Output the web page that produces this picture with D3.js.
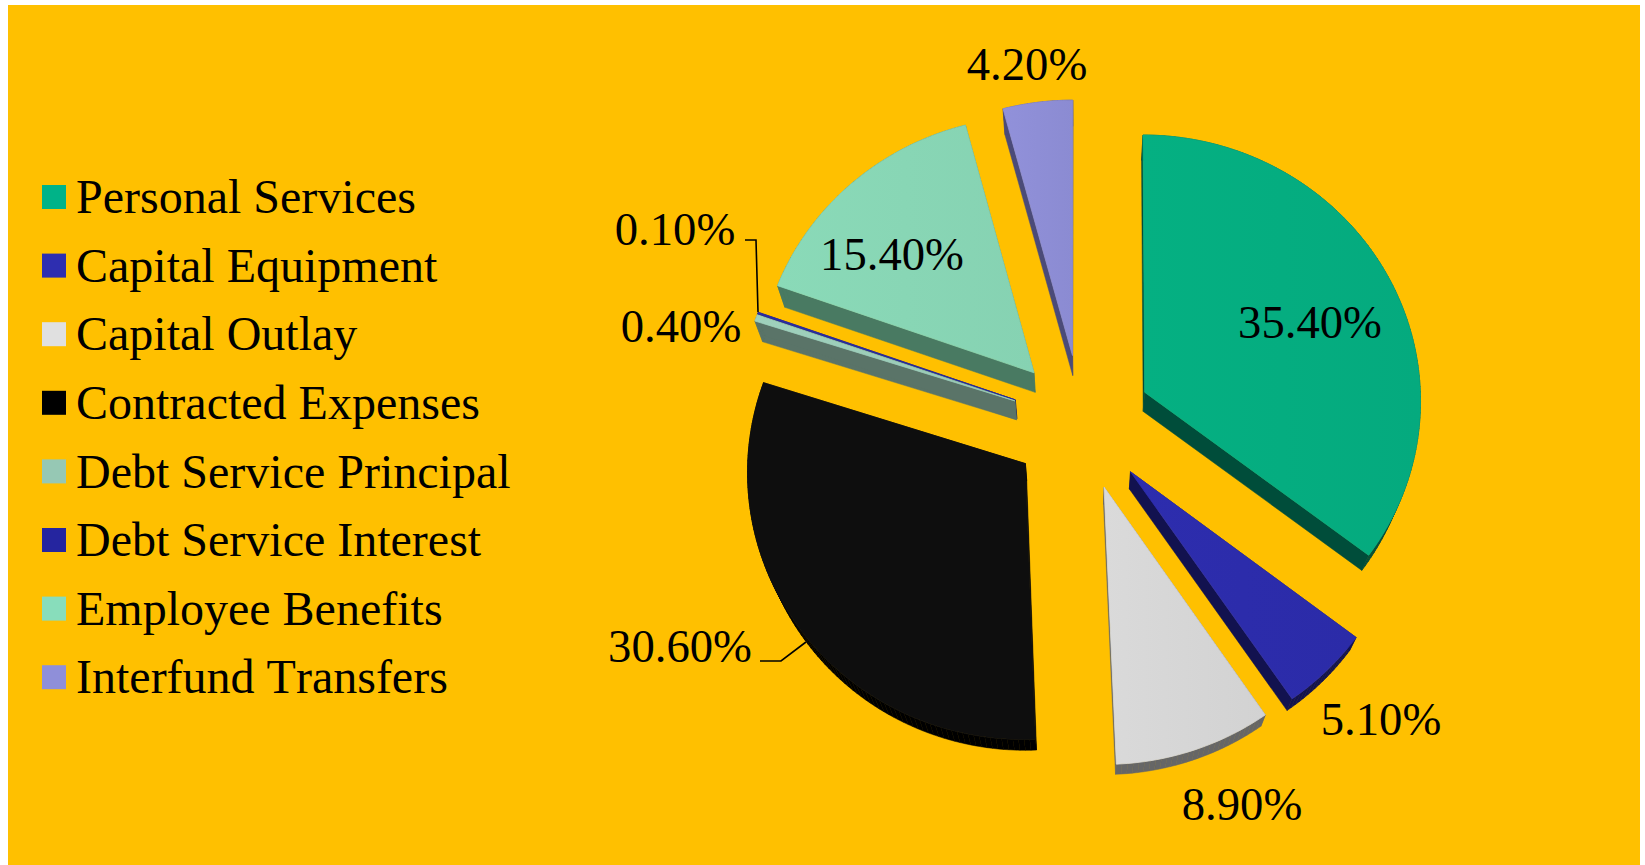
<!DOCTYPE html>
<html><head><meta charset="utf-8">
<style>html,body{margin:0;padding:0;background:#fff;overflow:hidden}svg{display:block}text{font-family:"Liberation Serif",serif;fill:#000;font-kerning:none}</style>
<script src="https://cdnjs.cloudflare.com/ajax/libs/d3/7.8.5/d3.min.js"></script>
</head><body><svg id="c" width="1645" height="865"></svg>
<script>
const categories=["Personal Services","Capital Equipment","Capital Outlay","Contracted Expenses","Debt Service Principal","Debt Service Interest","Employee Benefits","Interfund Transfers"];
const values=[35.4,5.1,8.9,30.6,0.4,0.1,15.4,4.2];
const labels=["35.40%","5.10%","8.90%","30.60%","0.40%","0.10%","15.40%","4.20%"];
const faceColors=["#05AD80","#2C2CAB","#D6D6D6","#0E0E0E","#9CCDB9","#2A2AA0","#88D6B5","#8E8ED6"];
const wallColors=["#004D3A","#12124F","#666666","#000000","#5A7468","#14145A","#497A62","#4B4B78"];
const legendColors=["#00B388","#2E2EB0","#E0E0E0","#000000","#96C8B4","#25259F","#88DDBB","#8F8FD9"];
const labelAnchors=[[1310,322],[1381,719],[1242,804],[680,646],[681,326],[675,229],[892,254],[1027,64]];
const leaderLines=[[[745,240],[756,240],[758,312]],[[760,661],[781,661],[806,642]]];

const svg=d3.select("#c");
svg.append("rect").attr("x",8).attr("y",5).attr("width",1632).attr("height",860).attr("fill","#FFC000");

const cx=1081.7,cy=422.3,A=276.5,B=266,ex=0.255,p=0.0275;
const vp=[1082,1189],wallT=0.024;
const sx=d3.scaleLinear().domain([0,1]).range([0,A]);
const sy=d3.scaleLinear().domain([0,1]).range([0,-B]);
function project(X,Y){const w=1+p*Y;return [cx+sx(X)/w,cy+sy(Y)/w];}
function drop(P){return [P[0]+wallT*(vp[0]-P[0]),P[1]+wallT*(vp[1]-P[1])];}

const defs=svg.append("defs");
faceColors.forEach((c,i)=>{
  const lg=defs.append("linearGradient").attr("id","f"+i).attr("x1",0).attr("y1",0).attr("x2",1).attr("y2",0);
  lg.append("stop").attr("offset",0).attr("stop-color",d3.color(c).brighter(0.05));
  lg.append("stop").attr("offset",1).attr("stop-color",d3.color(c).darker(0.05));
});

const arcs=d3.pie().sort(null).value(d=>d)(values);
const path=d3.line();
const g=svg.append("g");
const slices=arcs.map((a,i)=>{
  const m=(a.startAngle+a.endAngle)/2;
  const ox=ex*Math.sin(m),oy=ex*Math.cos(m);
  const n=Math.max(2,Math.ceil((a.endAngle-a.startAngle)/0.02));
  const pts=[project(ox,oy)];
  d3.range(n+1).forEach(k=>{const t=a.startAngle+(a.endAngle-a.startAngle)*k/n;pts.push(project(ox+Math.sin(t),oy+Math.cos(t)));});
  return {i,pts};
});
// far slices are painted first so that a nearer slice hides what lies behind it
slices.slice().sort((a,b)=>a.pts[0][1]-b.pts[0][1]).forEach(s=>{
  const w=g.append("g");
  s.pts.forEach((P,k)=>{const Q=s.pts[(k+1)%s.pts.length];
    w.append("path").attr("d",path([P,Q,drop(Q),drop(P)])+"Z").attr("fill",wallColors[s.i]).attr("stroke",wallColors[s.i]).attr("stroke-width",0.5);
  });
  g.append("path").attr("d",path(s.pts)+"Z").attr("fill",`url(#f${s.i})`).attr("stroke",`url(#f${s.i})`).attr("stroke-width",0.8);
});

svg.append("g").selectAll("path").data(leaderLines).join("path").attr("d",d=>path(d)).attr("fill","none").attr("stroke","#000").attr("stroke-width",1.6);
svg.append("g").selectAll("text").data(labels).join("text").attr("x",(d,i)=>labelAnchors[i][0]).attr("y",(d,i)=>labelAnchors[i][1]).attr("text-anchor","middle").attr("dominant-baseline","central").attr("font-size",46.67).text(d=>d);

const ly=d3.scalePoint().domain(categories).range([197,197+68.6*7]);
const lg=svg.append("g").selectAll("g").data(categories).join("g").attr("transform",d=>`translate(0,${ly(d)})`);
lg.append("rect").attr("x",42).attr("y",-12).attr("width",24).attr("height",24).attr("fill",(d,i)=>legendColors[i]);
lg.append("text").attr("x",76).attr("y",-0.4).attr("dominant-baseline","central").attr("font-size",48).text(d=>d);
</script></body></html>
